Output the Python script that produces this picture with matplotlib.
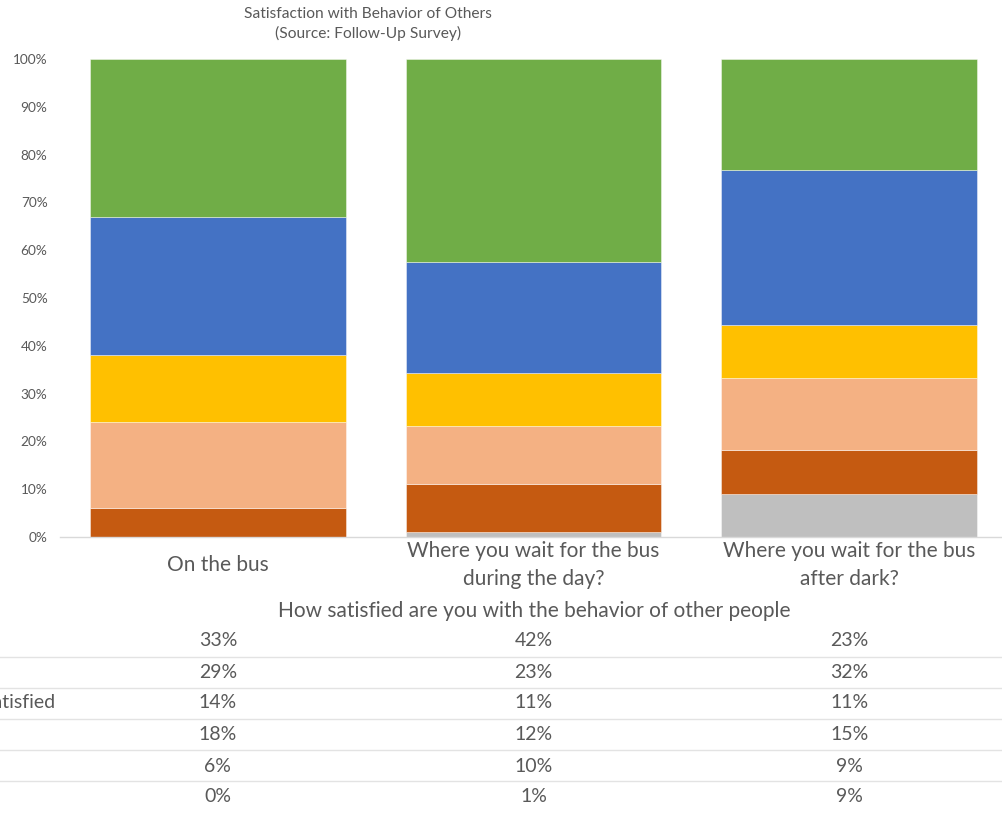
import matplotlib
matplotlib.use("Agg")
import matplotlib.pyplot as plt
from matplotlib.lines import Line2D
import matplotlib.transforms as mtransforms
import numpy as np

plt.rcParams['font.family'] = ['Lato', 'DejaVu Sans']

# ---------------- data ----------------
categories = ["On the bus",
              "Where you wait for the bus\nduring the day?",
              "Where you wait for the bus\nafter dark?"]
# series listed bottom -> top of stack
series_names = ["Don't know", "Very dissatisfied", "Dissatisfied",
                "Neither satisfied nor dissatisfied", "Satisfied", "Very satisfied"]
dont_know = [0, 1, 9]
very_dissatisfied = [6, 10, 9]
dissatisfied = [18, 12, 15]
neutral = [14, 11, 11]
satisfied = [29, 23, 32]
very_satisfied = [33, 42, 23]
series_values = [dont_know, very_dissatisfied, dissatisfied, neutral, satisfied, very_satisfied]
series_colors = ["#BFBFBF", "#C55A11", "#F4B183", "#FFC000", "#4472C4", "#70AD47"]
ytick_values = [0, 10, 20, 30, 40, 50, 60, 70, 80, 90, 100]
title = "Satisfaction with Behavior of Others\n(Source: Follow-Up Survey)"
table_header = "How satisfied are you with the behavior of other people"

TXT = "#595959"
W, H = 1002, 818
fig = plt.figure(figsize=(W / 100, H / 100), dpi=100)

def fx(px):
    return px / W

def fy(py):
    return 1 - py / H

ax_left, ax_right = 60, 1007
ax_top, ax_bottom = 59, 537
ax = fig.add_axes([fx(ax_left), fy(ax_bottom), (ax_right - ax_left) / W, (ax_bottom - ax_top) / H])

vals = np.array(series_values, dtype=float)
totals = vals.sum(axis=0)
fracs = vals / totals
x = np.arange(len(categories))
bottom = np.zeros(len(categories))
for f, c in zip(fracs, series_colors):
    ax.bar(x, f, bottom=bottom, width=0.81, color=c, edgecolor=(1, 1, 1, 0.5), linewidth=0.6, zorder=2)
    bottom += f

ax.set_xlim(-0.5, len(categories) - 0.5)
ax.set_ylim(0, 1)
ax.set_yticks([v / 100 for v in ytick_values])
ax.set_yticklabels([f"{v}%" for v in ytick_values])
ax.tick_params(axis='y', length=0, pad=9, labelsize=9.8, labelcolor=TXT)
ax.set_xticks([])
for s in ["top", "right", "left"]:
    ax.spines[s].set_visible(False)
ax.spines["bottom"].set_color("#D9D9D9")
ax.spines["bottom"].set_linewidth(1.0)

# title
fig.text(fx(368), fy(24), title, ha='center', va='center', fontsize=11.2, color=TXT, linespacing=1.45)

blend = mtransforms.blended_transform_factory(ax.transData, fig.transFigure)

# category labels
for i, cat in enumerate(categories):
    ax.text(i, fy(565), cat, transform=blend, ha='center', va='center',
            fontsize=15, color=TXT, linespacing=1.5)

# table header
fig.text(fx(534), fy(611), table_header, ha='center', va='center', fontsize=15, color=TXT)

# table rows (top row = top of stack)
row_y = [641, 672, 703, 734, 766, 797]
sep_y = [657, 688, 719, 750, 781]
for yy in sep_y:
    fig.add_artist(Line2D([0, 1], [fy(yy), fy(yy)], transform=fig.transFigure,
                          color="#E3E3E3", linewidth=1.0))

rows = list(zip(series_names, series_values))[::-1]
renderer = fig.canvas.get_renderer()
label_texts = []
for (name, v), yy in zip(rows, row_y):
    for i, val in enumerate(v):
        ax.text(i, fy(yy), f"{val}%", transform=blend, ha='center', va='center',
                fontsize=14, color=TXT)
    t = fig.text(0, fy(yy), name, ha='left', va='center', fontsize=14, color=TXT)
    label_texts.append(t)

# row labels are left-aligned; the chart is cropped so that only the end of the longest shows
widths = [t.get_window_extent(renderer).width for t in label_texts]
x0 = 55 - max(widths)
for t in label_texts:
    t.set_x(fx(x0))

fig.savefig("out.png", dpi=100)
